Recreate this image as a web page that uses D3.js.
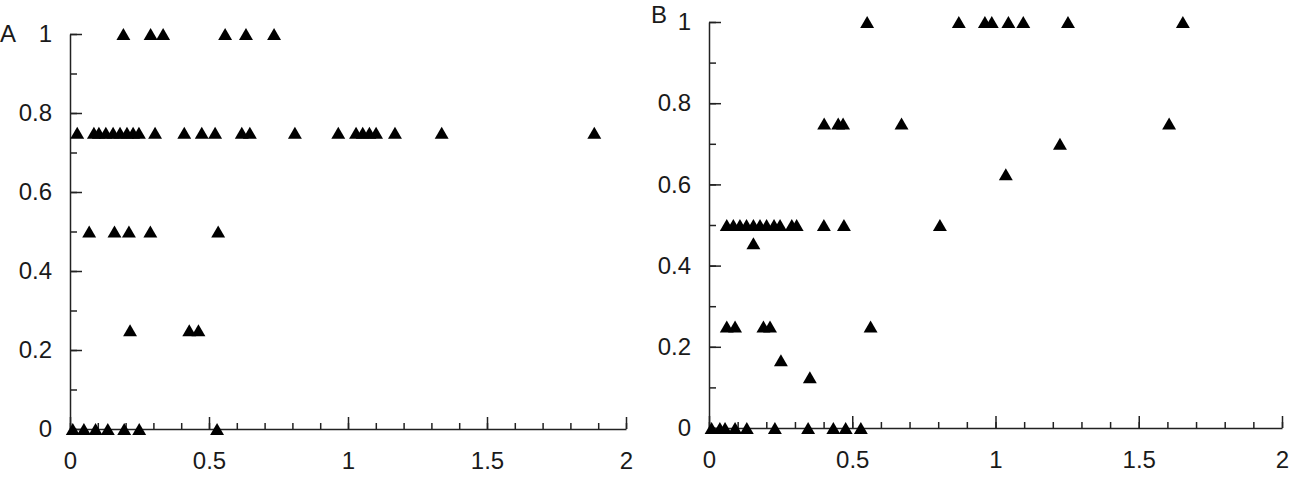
<!DOCTYPE html>
<html lang="en">
  <head>
    <meta charset="utf-8">
    <title>Scatter A / B</title>
    <script src="https://cdn.jsdelivr.net/npm/d3@7/dist/d3.min.js"></script>
    <style>
      body { margin: 0; background: #fff; }
      text { font-family: 'Liberation Sans', Arial, Helvetica, sans-serif; fill: #1a1a1a; }
    </style>
  </head>
  <body>
    <div id="chart"></div>
    <script type="text/javascript">
      // tick labels
      let xTicks = [0, 0.5, 1, 1.5, 2]
      let yTicks = [0, 0.2, 0.4, 0.6, 0.8, 1]
      let xMinor = d3.range(0, 21).map((i) => i / 10)
      let yMinor = d3.range(0, 11).map((i) => i / 10)

      // panel A points
      let aX = [0.192, 0.290, 0.335, 0.558, 0.633, 0.734,
                0.026, 0.086, 0.104, 0.129, 0.155, 0.180, 0.205, 0.227, 0.248, 0.306, 0.411, 0.474, 0.522,
                0.618, 0.647, 0.809, 0.965, 1.029, 1.053, 1.077, 1.101, 1.169, 1.337, 1.886,
                0.069, 0.160, 0.212, 0.289, 0.533,
                0.216, 0.429, 0.462,
                0.010, 0.050, 0.092, 0.136, 0.195, 0.249, 0.529]
      let aY = [1, 1, 1, 1, 1, 1,
                0.75, 0.75, 0.75, 0.75, 0.75, 0.75, 0.75, 0.75, 0.75, 0.75, 0.75, 0.75, 0.75,
                0.75, 0.75, 0.75, 0.75, 0.75, 0.75, 0.75, 0.75, 0.75, 0.75, 0.75,
                0.5, 0.5, 0.5, 0.5, 0.5,
                0.25, 0.25, 0.25,
                0, 0, 0, 0, 0, 0, 0]

      // panel B points
      let bX = [0.552, 0.872, 0.963, 0.987, 1.045, 1.097, 1.253, 1.654,
                0.402, 0.451, 0.468, 0.672, 1.606,
                1.225, 1.036,
                0.062, 0.085, 0.108, 0.131, 0.155, 0.178, 0.201, 0.227, 0.248, 0.289, 0.306, 0.401, 0.471, 0.806,
                0.155,
                0.062, 0.091, 0.190, 0.213, 0.564,
                0.251, 0.352,
                0.009, 0.038, 0.056, 0.091, 0.132, 0.230, 0.346, 0.434, 0.477, 0.530]
      let bY = [1, 1, 1, 1, 1, 1, 1, 1,
                0.75, 0.75, 0.75, 0.75, 0.75,
                0.70, 0.625,
                0.5, 0.5, 0.5, 0.5, 0.5, 0.5, 0.5, 0.5, 0.5, 0.5, 0.5, 0.5, 0.5, 0.5,
                0.455,
                0.25, 0.25, 0.25, 0.25, 0.25,
                0.167, 0.125,
                0, 0, 0, 0, 0, 0, 0, 0, 0, 0]

      let svg = d3.select('#chart').append('svg')
        .attr('width', 1294)
        .attr('height', 495)

      svg.append('rect').attr('width', 1294).attr('height', 495).attr('fill', '#fff')

      let tri = d3.symbol().type(d3.symbolTriangle).size(84)

      function panel(xs, ys, letter, box) {
        let scale_x = d3.scaleLinear().domain([0, 2]).range([box.x0, box.x1])
        let scale_y = d3.scaleLinear().domain([0, 1]).range([box.y0, box.y1])

        // minor ticks
        svg.append('g')
          .attr('transform', 'translate(0,' + box.y0 + ')')
          .call(d3.axisBottom(scale_x).tickValues(xMinor).tickSize(-6).tickFormat(''))
          .call((g) => g.select('.domain').remove())
        svg.append('g')
          .attr('transform', 'translate(' + box.x0 + ',0)')
          .call(d3.axisLeft(scale_y).tickValues(yMinor).tickSize(-7).tickFormat(''))
          .call((g) => g.select('.domain').remove())

        // major ticks + labels
        let x_axis = d3.axisBottom(scale_x).tickValues(xTicks).tickSize(-12).tickSizeOuter(0)
          .tickPadding(23).tickFormat(d3.format('~g'))
        svg.append('g')
          .attr('class', 'axis')
          .attr('transform', 'translate(0,' + box.y0 + ')')
          .call(x_axis)

        let y_axis = d3.axisLeft(scale_y).tickValues(yTicks).tickSize(-12).tickSizeOuter(0)
          .tickPadding(18).tickFormat(d3.format('~g'))
        svg.append('g')
          .attr('class', 'axis')
          .attr('transform', 'translate(' + box.x0 + ',0)')
          .call(y_axis)

        svg.selectAll('.tick line, .domain')
          .attr('stroke', '#222')
          .attr('stroke-width', 1.5)
        svg.selectAll('.axis text')
          .attr('font-size', '24px')
          .attr('fill', '#1a1a1a')

        // panel letter
        svg.append('text')
          .attr('x', box.lx)
          .attr('y', box.ly)
          .attr('dy', '0.36em')
          .attr('font-size', '24px')
          .text(letter)

        svg.append('g').selectAll('path')
          .data(d3.zip(xs, ys))
          .enter()
          .append('path')
          .attr('d', tri)
          .attr('transform', (d) => 'translate(' + scale_x(d[0]) + ',' + (scale_y(d[1]) + 2) + ')')
          .attr('fill', '#000')
      }

      panel(aX, aY, 'A', {x0: 70, x1: 626, y0: 429, y1: 34, lx: 0, ly: 33})
      panel(bX, bY, 'B', {x0: 709, x1: 1282, y0: 428, y1: 22, lx: 651, ly: 14})
    </script>
  </body>
</html>
